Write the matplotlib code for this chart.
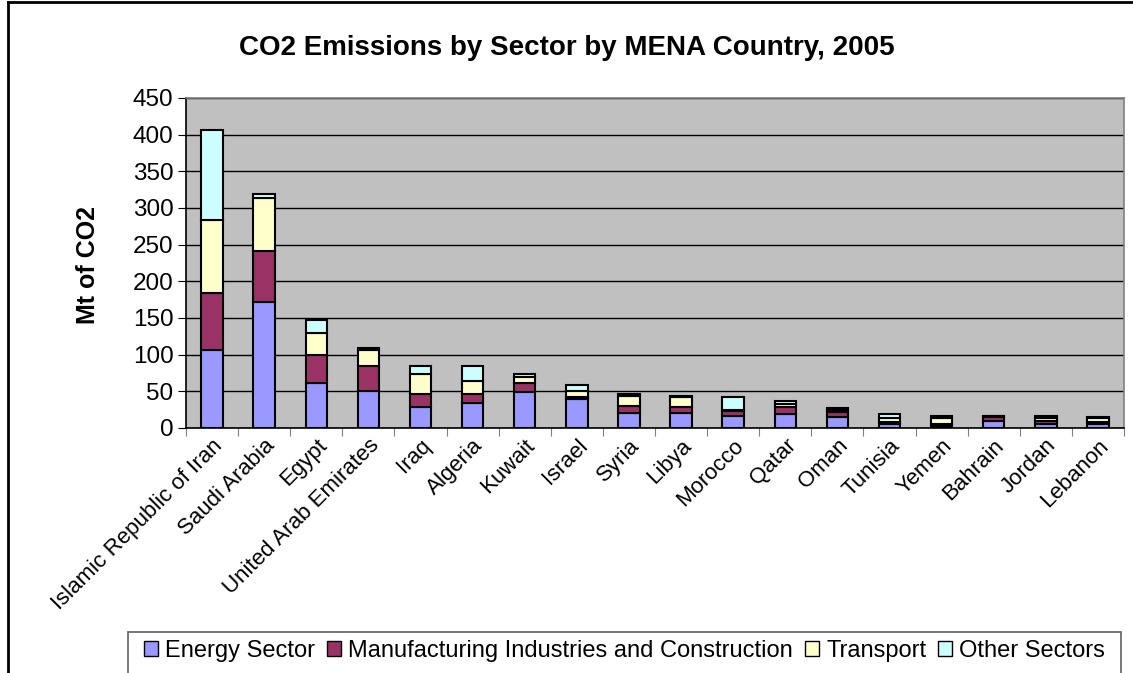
import numpy as np
import matplotlib
matplotlib.use('Agg')
import matplotlib.pyplot as plt
from matplotlib.patches import Rectangle, Patch
from matplotlib.lines import Line2D

plt.rcParams['font.family'] = ['Liberation Sans', 'DejaVu Sans']

paises = ["Islamic Republic of Iran", "Saudi Arabia", "Egypt", "United Arab Emirates",
          "Iraq", "Algeria", "Kuwait", "Israel", "Syria", "Libya", "Morocco", "Qatar",
          "Oman", "Tunisia", "Yemen", "Bahrain", "Jordan", "Lebanon"]
energia = [106, 172, 61, 51, 29, 34, 49, 39, 21, 21, 16, 19, 15, 6, 3, 10, 6, 6]
manufactura = [78, 69, 38, 33, 17, 13, 12, 3, 9, 8, 7, 10, 7, 2, 2, 5, 3, 2]
transporte = [100, 73, 30, 23, 28, 17, 8, 9, 14, 13, 2, 4, 3, 5, 9, 1, 5, 5]
otros = [123, 5, 18, 2, 10, 20, 5, 8, 3, 2, 17, 4, 2, 6, 3, 1, 3, 2]
series = ["Energy Sector", "Manufacturing Industries and Construction", "Transport", "Other Sectors"]
colores = ['#9999FF', '#993366', '#FFFFCC', '#CCFFFF']

W, H = 1133, 673
fig = plt.figure(figsize=(W / 100, H / 100), dpi=100)
ax = fig.add_axes([186 / W, 1 - 428 / H, (1124 - 186) / W, (428 - 98) / H])
ax.set_facecolor('#C0C0C0')

x = np.arange(len(paises))
base = np.zeros(len(paises))
for datos, color, nombre in zip([energia, manufactura, transporte, otros], colores, series):
    ax.bar(x, datos, width=0.41, bottom=base, color=color, edgecolor='black',
           linewidth=1.5, label=nombre, zorder=3)
    base += np.array(datos)

ax.set_xlim(-0.5, len(paises) - 0.5)
ax.set_ylim(0, 450)
ax.set_yticks(range(0, 451, 50))
ax.tick_params(axis='y', labelsize=17.5, length=6, direction='out', pad=3)
ax.yaxis.grid(True, color='black', linewidth=1, zorder=0)
ax.set_axisbelow(True)

# marcas entre categorias, etiquetas en el centro
ax.set_xticks(np.arange(-0.5, len(paises), 1))
ax.set_xticklabels([])
ax.tick_params(axis='x', which='major', length=6, color='#808080')
ax.set_xticks(x, minor=True)
ax.set_xticklabels(paises, minor=True, rotation=45, ha='right', rotation_mode='anchor', fontsize=16)
ax.tick_params(axis='x', which='minor', length=0, pad=5)

for s in ax.spines.values():
    s.set_color('#808080')
    s.set_linewidth(1.2)
ax.spines['left'].set_color('black')
ax.spines['bottom'].set_color('black')

fig.text(0.5, 1 - 48 / H, 'CO2 Emissions by Sector by MENA Country, 2005',
         ha='center', va='center', fontsize=20, fontweight='bold')
fig.text(88 / W, 1 - 265 / H, 'Mt of CO2', rotation=90, ha='center', va='center',
         fontsize=18, fontweight='bold')

# marco exterior del grafico
fig.add_artist(Line2D([8 / W, 8 / W], [0, 1 - 2 / H], transform=fig.transFigure, color='black', linewidth=2))
fig.add_artist(Line2D([8 / W, 1], [1 - 2 / H, 1 - 2 / H], transform=fig.transFigure, color='black', linewidth=2))

# caja de la leyenda
fig.add_artist(Rectangle((128 / W, -0.05), (1121 - 128) / W, 0.05 + (673 - 632) / H,
                         transform=fig.transFigure, facecolor='white', edgecolor='#606060', linewidth=1.2))
handles = [Patch(facecolor=c, edgecolor='black', linewidth=1) for c in colores]
fig.legend(handles, series, loc='center', bbox_to_anchor=((128 + 1121) / 2 / W, 1 - 651 / H),
           ncol=4, frameon=False, fontsize=17, handlelength=0.6, handleheight=0.6,
           handletextpad=0.3, columnspacing=0.5)

fig.savefig('out.png', dpi=100)
